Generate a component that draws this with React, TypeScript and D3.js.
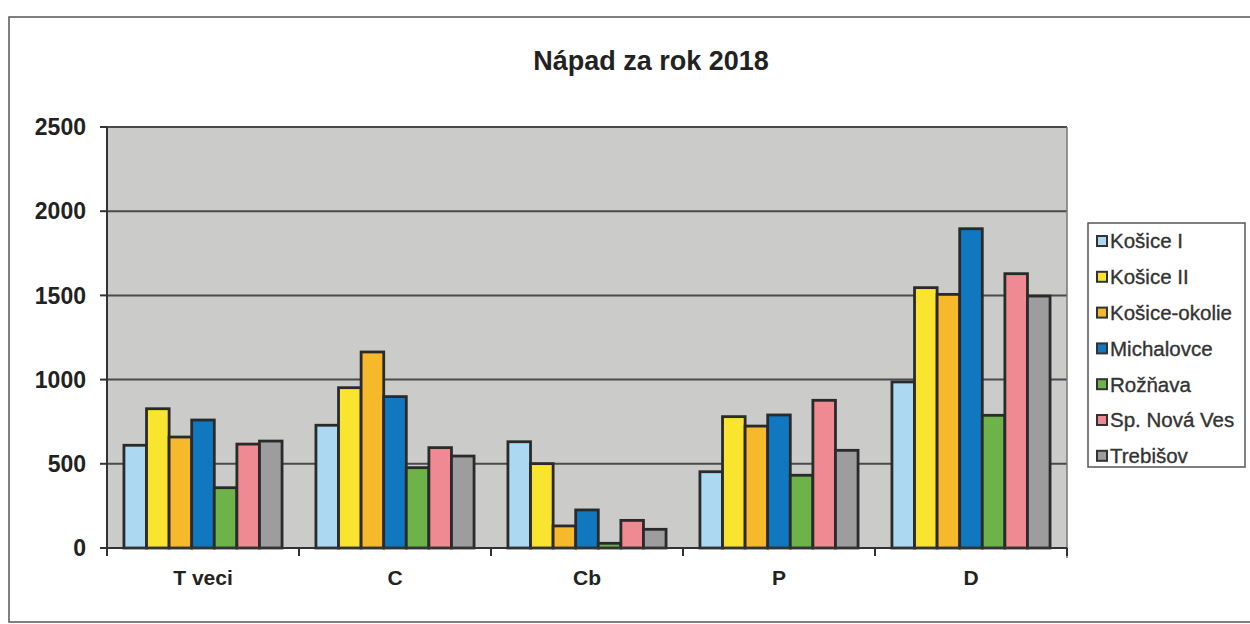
import React from "react";
import * as d3 from "d3";

const categories = ["T veci", "C", "Cb", "P", "D"];
const seriesNames = ["Košice I", "Košice II", "Košice-okolie", "Michalovce", "Rožňava", "Sp. Nová Ves", "Trebišov"];
const legendLabels = ["Košice I", "Košice II", "Košice-okolie", "Michalovce", "Rožňava", "Sp.  Nová Ves", "Trebišov"];
const seriesColors = ["#acd8f2", "#f9e52f", "#f7b92c", "#0f78c0", "#6db34a", "#f08a92", "#9d9d9d"];
const kosiceI = [610, 729, 631, 453, 986];
const kosiceII = [827, 952, 501, 780, 1546];
const kosiceOkolie = [659, 1164, 131, 724, 1506];
const michalovce = [760, 899, 226, 790, 1896];
const roznava = [358, 477, 28, 432, 788];
const spNovaVes = [617, 596, 164, 877, 1629];
const trebisov = [635, 546, 111, 580, 1496];
const seriesValues = [kosiceI, kosiceII, kosiceOkolie, michalovce, roznava, spNovaVes, trebisov];
const yTicks = [0, 500, 1000, 1500, 2000, 2500];
const title = "Nápad za rok 2018";

const FONT = "'Liberation Sans', Arial, sans-serif";

export default function App() {
  const W = 1250, H = 624;
  const left = 107, right = 1067, top = 127, bottom = 548;
  const y = d3.scaleLinear().domain([0, 2500]).range([bottom, top]);
  const x0 = d3.scaleBand<string>().domain(categories).range([left, right]).padding(0);
  const x1 = d3.scaleBand<string>().domain(seriesNames).range([0, x0.bandwidth()]).paddingInner(0).paddingOuter(0.75);

  return (
    <svg width={W} height={H} style={{ position: "absolute", left: 0, top: 0, background: "#fff" }} fontFamily={FONT}>
      {/* outer frame */}
      <path d={`M1252,17 L9,17 L9,622 L1252,622`} fill="none" stroke="#555" strokeWidth={1.5} />
      <text x={651} y={70} textAnchor="middle" fontSize={27} fontWeight="bold" fill="#222">{title}</text>

      {/* plot area */}
      <rect x={left} y={top} width={right - left} height={bottom - top} fill="#cbcbca" />
      {yTicks.filter(t => t > 0).map(t => (
        <line key={t} x1={left} x2={right} y1={y(t)} y2={y(t)} stroke="#4a4a4a" strokeWidth={2} />
      ))}
      <line x1={right} x2={right} y1={top} y2={bottom + 10} stroke="#777" strokeWidth={1.5} />

      {categories.map((c, ci) => (
        <g key={c}>
          {seriesNames.map((s, si) => {
            const v = seriesValues[si][ci];
            const bx = (x0(c) as number) + (x1(s) as number);
            return (
              <rect key={s} x={bx} y={y(v)} width={x1.bandwidth()} height={bottom - y(v)}
                fill={seriesColors[si]} stroke="#2a2a2a" strokeWidth={2.8} />
            );
          })}
        </g>
      ))}

      {/* axes */}
      <line x1={left} x2={left} y1={top} y2={bottom} stroke="#333" strokeWidth={2} />
      <line x1={left} x2={right} y1={bottom} y2={bottom} stroke="#333" strokeWidth={2} />
      {yTicks.map(t => (
        <g key={t}>
          <line x1={left - 7} x2={left} y1={y(t)} y2={y(t)} stroke="#333" strokeWidth={2} />
          <text x={86} y={y(t)} dy="0.36em" textAnchor="end" fontSize={23} fontWeight="bold" fill="#222">{t}</text>
        </g>
      ))}
      {categories.map((c, ci) => (
        <g key={c}>
          <line x1={(x0(c) as number) + x0.bandwidth()} x2={(x0(c) as number) + x0.bandwidth()} y1={bottom} y2={bottom + 8} stroke="#333" strokeWidth={2} />
          <text x={(x0(c) as number) + x0.bandwidth() / 2} y={585} textAnchor="middle" fontSize={21} fontWeight="bold" fill="#222">{c}</text>
        </g>
      ))}
      <line x1={left} x2={left} y1={bottom} y2={bottom + 8} stroke="#333" strokeWidth={2} />

      {/* legend */}
      <rect x={1088} y={223} width={157} height={244} fill="#fff" stroke="#555" strokeWidth={1.5} />
      {legendLabels.map((l, i) => {
        const ly = 241 + i * 35.8;
        return (
          <g key={l}>
            <rect x={1097} y={ly - 5} width={10} height={10} fill={seriesColors[i]} stroke="#333" strokeWidth={2} />
            <text x={1110} y={ly} dy="0.36em" fontSize={20.5} fill="#333" stroke="#333" strokeWidth={0.35}>{l}</text>
          </g>
        );
      })}
    </svg>
  );
}
